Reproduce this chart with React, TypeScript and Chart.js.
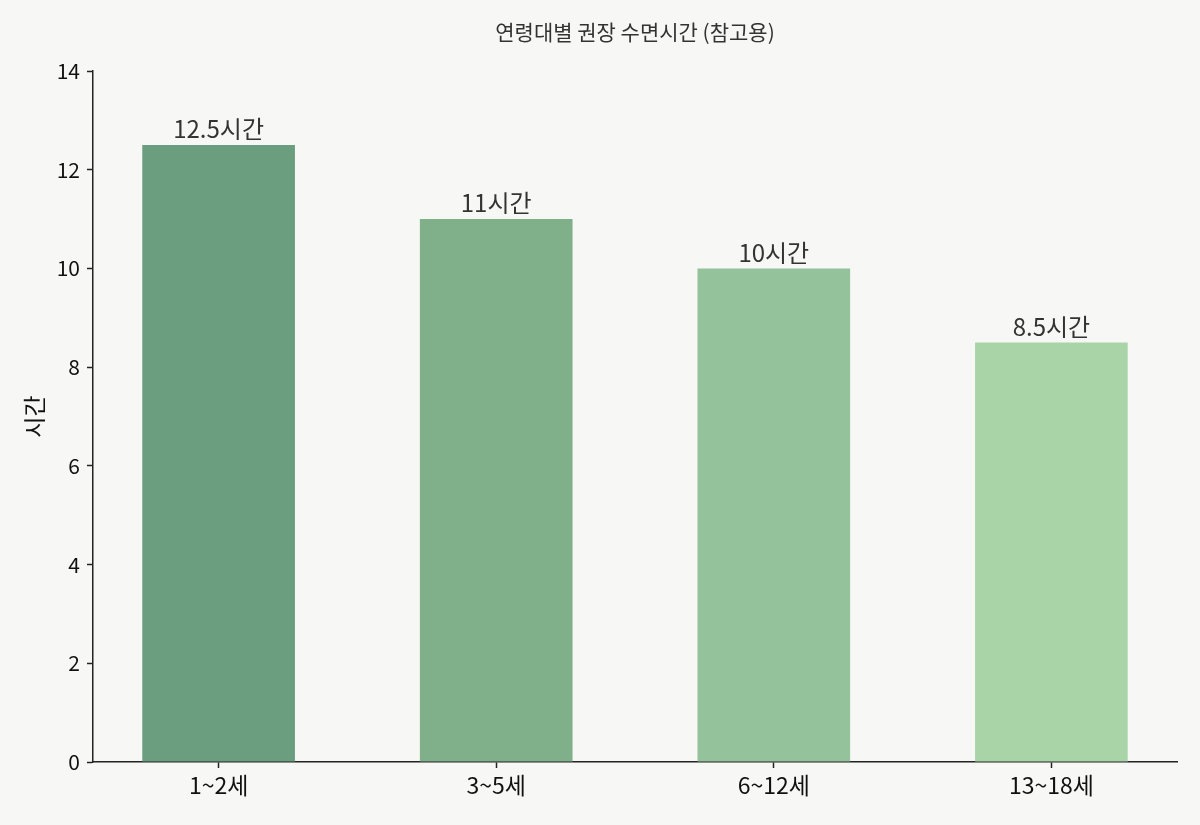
import React, { useEffect, useRef } from "react";
import { Chart, registerables } from "chart.js";

Chart.register(...registerables);

const categories = ["1~2세", "3~5세", "6~12세", "13~18세"];
const hours = [12.5, 11, 10, 8.5];
const barColors = ["#6b9e7f", "#7fb08a", "#94c29b", "#a8d4a8"];
const yTicks = [0, 2, 4, 6, 8, 10, 12, 14];

const FONT = "'Noto Sans CJK KR', 'Noto Sans', sans-serif";

const chartTitle = {
  id: "chartTitle",
  afterDraw(chart: Chart) {
    const { ctx, chartArea } = chart;
    ctx.save();
    ctx.font = `21px ${FONT}`;
    ctx.fillStyle = "#333";
    ctx.textAlign = "center";
    ctx.textBaseline = "middle";
    ctx.fillText("연령대별 권장 수면시간 (참고용)", (chartArea.left + chartArea.right) / 2, 32);
    ctx.restore();
  },
};

const barLabels = {
  id: "barLabels",
  afterDatasetsDraw(chart: Chart) {
    const { ctx } = chart;
    const meta = chart.getDatasetMeta(0);
    ctx.save();
    ctx.font = `24px ${FONT}`;
    ctx.fillStyle = "#333";
    ctx.textAlign = "center";
    ctx.textBaseline = "bottom";
    meta.data.forEach((bar: any, i: number) => {
      ctx.fillText(`${hours[i]}시간`, bar.x, bar.y - 4);
    });
    ctx.restore();
  },
};

export default function App() {
  const canvasRef = useRef<HTMLCanvasElement | null>(null);
  const chartRef = useRef<Chart | null>(null);

  useEffect(() => {
    document.body.style.margin = "0";
    document.body.style.background = "#f7f8f5";
    if (!canvasRef.current) return;
    chartRef.current = new Chart(canvasRef.current, {
      type: "bar",
      data: {
        datasets: [
          {
            data: hours.map((h, i) => ({ x: i, y: h })),
            backgroundColor: barColors,
            categoryPercentage: 1,
            barPercentage: 0.55,
          },
        ],
      },
      options: {
        animation: false,
        responsive: true,
        maintainAspectRatio: false,
        layout: { padding: { top: 71, right: 23, left: 0, bottom: 0 } },
        plugins: {
          legend: { display: false },
          tooltip: { enabled: false },
        },
        scales: {
          x: {
            type: "linear",
            min: -0.4525,
            max: 3.4525,
            offset: false,
            afterBuildTicks: (scale: any) => {
              scale.ticks = categories.map((_, i) => ({ value: i }));
            },
            afterFit: (scale: any) => {
              scale.height = 63;
            },
            ticks: {
              callback: (v: any) => categories[v] ?? "",
              color: "#111",
              font: { family: FONT, size: 23 },
              padding: 3,
              maxRotation: 0,
              autoSkip: false,
            },
            grid: {
              offset: false,
              drawOnChartArea: false,
              drawTicks: true,
              tickLength: 6,
              tickColor: "#222",
              tickWidth: 1.5,
            },
            border: { display: true, color: "#222", width: 1.5 },
          },
          y: {
            min: 0,
            max: 14,
            afterBuildTicks: (scale: any) => {
              scale.ticks = yTicks.map((v) => ({ value: v }));
            },
            afterFit: (scale: any) => {
              scale.width = 93;
            },
            title: {
              display: true,
              text: "시간",
              color: "#111",
              font: { family: FONT, size: 23 },
              padding: { top: 20, bottom: 0 },
            },
            ticks: {
              color: "#111",
              font: { family: FONT, size: 21 },
              padding: 7,
            },
            grid: {
              drawOnChartArea: false,
              drawTicks: true,
              tickLength: 6,
              tickColor: "#222",
              tickWidth: 1.5,
            },
            border: { display: true, color: "#222", width: 1.5 },
          },
        },
      },
      plugins: [chartTitle, barLabels],
    });
    return () => {
      if (chartRef.current) chartRef.current.destroy();
    };
  }, []);

  return (
    <div style={{ width: 1200, height: 825, background: "#f7f8f5", position: "relative" }}>
      <canvas ref={canvasRef} />
    </div>
  );
}
